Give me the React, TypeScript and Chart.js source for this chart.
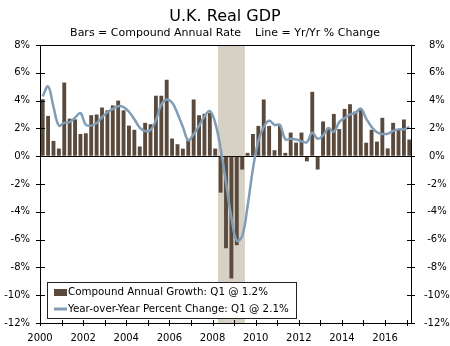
import React, { useEffect, useRef } from 'react';
import { Chart, registerables } from 'chart.js';

Chart.register(...registerables);

const TITLE = 'U.K. Real GDP';
const SUBTITLE = 'Bars = Compound Annual Rate    Line = Yr/Yr % Change';

const START_YEAR = 2000;
const X_MIN = 2000;
const X_MAX = 2017.25;
const Y_MIN = -12;
const Y_MAX = 8;
const Y_STEP = 2;

// 2000 Q1 ... 2017 Q1
const compoundAnnualGrowth = [
  4.1, 2.9, 1.1, 0.55,
  5.3, 2.7, 2.65, 1.6,
  1.65, 2.95, 3.0, 3.5,
  3.3, 3.65, 4.0, 3.3,
  2.2, 1.9, 0.7, 2.4,
  2.3, 4.35, 4.35, 5.5,
  1.27, 0.86, 0.54, 1.15,
  4.08, 2.95, 3.05, 3.12,
  0.55, -2.62, -6.62, -8.8,
  -6.4, -0.96, 0.24, 1.6,
  2.18, 4.08, 2.18, 0.43,
  2.22, 0.24, 1.7, 0.98,
  1.7, -0.37, 4.63, -0.96,
  2.5, 2.06, 3.04, 1.95,
  3.4, 3.74, 3.22, 3.35,
  0.97, 1.9, 1.05, 2.76,
  0.56, 2.4, 1.92, 2.64,
  1.2,
];

const yearOverYear = [
  4.3, 5.02, 3.55, 2.2,
  2.4, 2.45, 2.77, 3.1,
  2.26, 2.2, 2.38, 2.8,
  3.17, 3.4, 3.6, 3.53,
  3.2, 2.66, 2.06, 1.81,
  1.87, 2.6, 3.7, 4.08,
  3.86, 3.07, 2.11, 1.15,
  1.58, 2.18, 2.86, 3.25,
  2.4, 0.55, -1.9, -4.4,
  -6.08, -5.75, -3.6, -0.9,
  1.1, 2.1, 2.55, 2.25,
  2.25, 1.22, 1.25, 1.2,
  1.08, 1.0, 1.7, 1.25,
  1.5, 2.0, 1.75, 2.45,
  2.74, 3.0, 3.12, 3.42,
  2.71, 2.11, 1.72, 1.6,
  1.62, 1.82, 1.93, 1.93,
  2.1,
];

// recession: 2008 Q2 through 2009 Q2
const recessionStart = 2008.25;
const recessionEnd = 2009.5;

const BAR_COLOR = '#594a3d';
const LINE_COLOR = '#819db5';
const SHADE_COLOR = '#d6d1c4';
const FONT = '"DejaVu Sans", Verdana, sans-serif';

const quarterX = compoundAnnualGrowth.map((_, i) => START_YEAR + (i + 0.5) / 4);

const recessionPlugin = {
  id: 'recession',
  beforeDraw(chart: any) {
    const { ctx, chartArea } = chart;
    const xs = chart.scales.x;
    const a = xs.getPixelForValue(recessionStart);
    const b = xs.getPixelForValue(recessionEnd);
    ctx.save();
    ctx.fillStyle = SHADE_COLOR;
    ctx.fillRect(a, chartArea.top, b - a, chartArea.bottom - chartArea.top);
    ctx.restore();
  },
};

const framePlugin = {
  id: 'frame',
  afterDraw(chart: any) {
    const { ctx, chartArea } = chart;
    const { left, right, top, bottom } = chartArea;
    ctx.save();
    ctx.strokeStyle = '#000';
    ctx.lineWidth = 1;
    // ticks
    ctx.beginPath();
    chart.scales.x.ticks.forEach((t: any) => {
      const px = Math.round(chart.scales.x.getPixelForValue(t.value)) + 0.5;
      ctx.moveTo(px, bottom - 3);
      ctx.lineTo(px, bottom + 3);
    });
    chart.scales.y.ticks.forEach((t: any) => {
      const py = Math.round(chart.scales.y.getPixelForValue(t.value)) + 0.5;
      ctx.moveTo(left - 4, py);
      ctx.lineTo(left + 5, py);
    });
    chart.scales.y1.ticks.forEach((t: any) => {
      const py = Math.round(chart.scales.y1.getPixelForValue(t.value)) + 0.5;
      ctx.moveTo(right - 5, py);
      ctx.lineTo(right + 3, py);
    });
    ctx.stroke();

    // legend box
    const lines = [
      { text: `Compound Annual Growth: Q1 @ ${compoundAnnualGrowth[compoundAnnualGrowth.length - 1].toFixed(1)}%`, kind: 'bar' },
      { text: `Year-over-Year Percent Change: Q1 @ ${yearOverYear[yearOverYear.length - 1].toFixed(1)}%`, kind: 'line' },
    ];
    ctx.font = `10.3px ${FONT}`;
    const maxW = Math.max(...lines.map((l) => ctx.measureText(l.text).width));
    const bx = Math.round(left + 7) + 0.5;
    const bh = 36;
    const by = Math.round(bottom - 5 - bh) + 0.5;
    const bw = Math.round(21 + maxW + 7);
    ctx.fillStyle = '#fff';
    ctx.fillRect(bx, by, bw, bh);
    ctx.strokeStyle = '#222';
    ctx.strokeRect(bx, by, bw, bh);
    lines.forEach((l, i) => {
      const cy = by + 10 + i * 16.5;
      if (l.kind === 'bar') {
        ctx.fillStyle = BAR_COLOR;
        ctx.fillRect(bx + 6.5, cy - 3.5, 13, 7);
      } else {
        ctx.strokeStyle = LINE_COLOR;
        ctx.lineWidth = 3;
        ctx.beginPath();
        ctx.moveTo(bx + 6.5, cy);
        ctx.lineTo(bx + 19.5, cy);
        ctx.stroke();
      }
      ctx.fillStyle = '#000';
      ctx.textAlign = 'left';
      ctx.textBaseline = 'middle';
      ctx.fillText(l.text, bx + 20.5, cy);
    });

    // frame
    ctx.strokeStyle = '#000';
    ctx.lineWidth = 1;
    ctx.strokeRect(Math.round(left) + 0.5, Math.round(top) + 0.5, Math.round(right - left) - 1, Math.round(bottom - top));
    ctx.restore();
  },
};

export default function App() {
  const ref = useRef<HTMLCanvasElement>(null);
  useEffect(() => {
    const canvas = ref.current;
    if (!canvas) return;
    const barPts = compoundAnnualGrowth.map((v, i) => ({ x: quarterX[i], y: v }));
    const linePts = yearOverYear.map((v, i) => ({ x: quarterX[i], y: v }));
    const tickFont = { family: FONT, size: 10 };
    const chart = new Chart(canvas, {
      type: 'bar',
      data: {
        datasets: [
          {
            type: 'line',
            label: 'Year-over-Year Percent Change',
            data: linePts,
            borderColor: LINE_COLOR,
            backgroundColor: LINE_COLOR,
            borderWidth: 2.5,
            pointRadius: 0,
            tension: 0.4,
            order: 0,
          } as any,
          {
            type: 'bar',
            label: 'Compound Annual Growth',
            data: barPts,
            backgroundColor: BAR_COLOR,
            barPercentage: 0.72,
            categoryPercentage: 1,
            order: 1,
          } as any,
        ],
      },
      options: {
        responsive: false,
        animation: false,
        layout: { padding: 0 },
        plugins: {
          legend: { display: false },
          tooltip: { enabled: false },
          title: {
            display: true,
            text: TITLE,
            color: '#000',
            font: { family: FONT, size: 16, weight: 'normal', lineHeight: '20px' },
            padding: { top: 7, bottom: 0 },
          },
          subtitle: {
            display: true,
            text: SUBTITLE,
            color: '#000',
            font: { family: FONT, size: 11, weight: 'normal', lineHeight: '12px' },
            padding: { top: 0, bottom: 6 },
          },
        },
        scales: {
          x: {
            type: 'linear',
            min: X_MIN,
            max: X_MAX,
            offset: false,
            grid: { display: false },
            border: { display: false },
            ticks: {
              stepSize: 1,
              includeBounds: false,
              autoSkip: false,
              maxRotation: 0,
              color: '#000',
              font: tickFont,
              padding: 1,
              callback: (v: any) => (Number(v) % 2 === 0 ? String(v) : ''),
            },
            afterFit: (s: any) => {
              s.height = 23;
            },
          },
          y: {
            position: 'left',
            min: Y_MIN,
            max: Y_MAX,
            border: { display: false },
            grid: {
              drawTicks: false,
              color: (c: any) => (c.tick && c.tick.value === 0 ? '#000' : 'rgba(0,0,0,0)'),
            },
            ticks: {
              stepSize: Y_STEP,
              color: '#000',
              font: tickFont,
              padding: 10,
              callback: (v: any) => `${v}%`,
            },
            afterFit: (s: any) => {
              s.width = 40;
            },
          },
          y1: {
            position: 'right',
            min: Y_MIN,
            max: Y_MAX,
            border: { display: false },
            grid: { display: false },
            ticks: {
              stepSize: Y_STEP,
              color: '#000',
              font: tickFont,
              padding: 4,
              crossAlign: 'center',
              callback: (v: any) => `${v}%`,
            },
            afterFit: (s: any) => {
              s.width = 38;
            },
          },
        },
      } as any,
      plugins: [recessionPlugin, framePlugin],
    });
    return () => chart.destroy();
  }, []);
  return (
    <canvas
      ref={ref}
      width={450}
      height={346}
      style={{ position: 'fixed', left: 0, top: 0, display: 'block', width: 450, height: 346 }}
    />
  );
}
